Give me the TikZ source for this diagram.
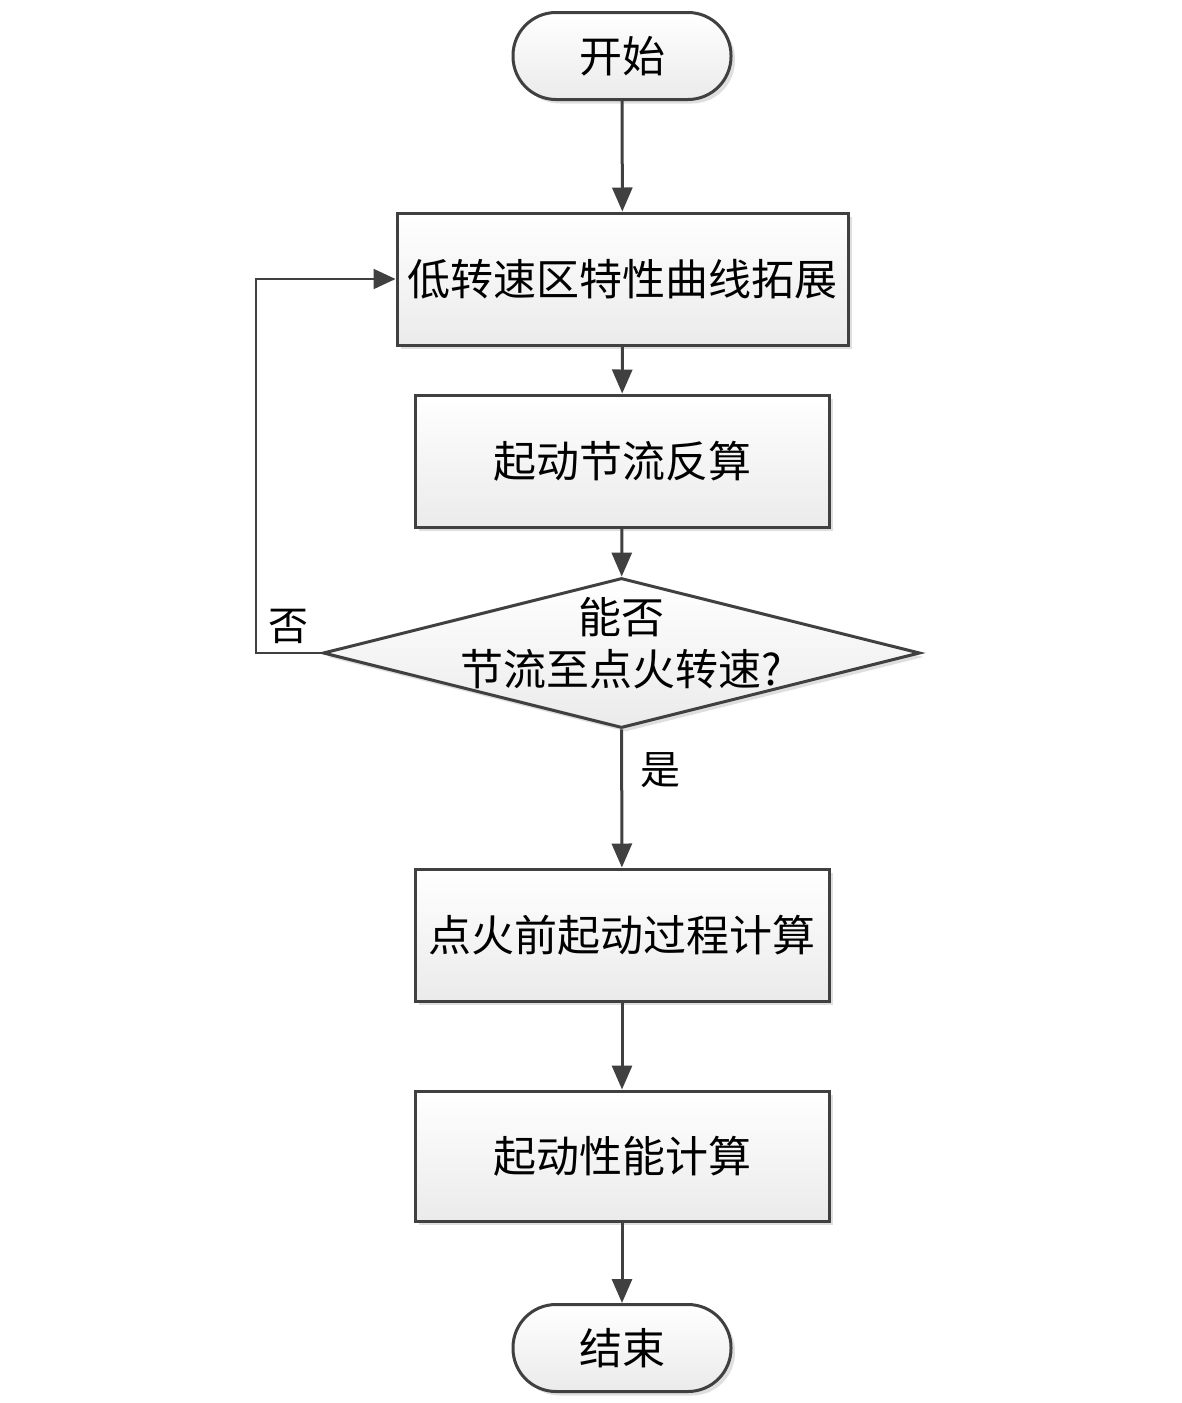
\documentclass[tikz,border=0pt]{standalone}
\usepackage{fontspec}
\setmainfont{Noto Sans CJK SC}
\usetikzlibrary{shapes.geometric,shadows,arrows.meta}
\begin{document}
\begin{tikzpicture}[x=1pt,y=-1pt,
  every node/.style={font=\fontsize{43}{52}\selectfont},
  boxfill/.style={draw=black!75, line width=3pt, top color=white, bottom color=black!8,
    drop shadow={opacity=0.25, shadow xshift=4pt, shadow yshift=-4pt}},
  procbox/.style={boxfill, rectangle, inner sep=0pt, minimum height=132pt},
  termbox/.style={boxfill, rectangle, rounded corners=43pt, inner sep=0pt, minimum width=218pt, minimum height=87pt},
  decbox/.style={boxfill, diamond, inner sep=0pt, minimum width=597pt, minimum height=150pt},
  conn/.style={draw=black!75, line width=3pt, -{Triangle[length=24pt,width=20pt]}},
  loopconn/.style={draw=black!75, line width=2pt, -{Triangle[length=22pt,width=20pt]}},
  lbl/.style={inner sep=0pt, font=\fontsize{40}{46}\selectfont}
]
\useasboundingbox (0,0) rectangle (1181,1403);
\fill[white] (0,0) rectangle (1181,1403);
\node[termbox] (start) at (622,56) {开始};
\node[procbox, minimum width=451pt] (b1) at (622.5,279) {低转速区特性曲线拓展};
\node[procbox, minimum width=414pt] (b2) at (622,461) {起动节流反算};
\node[decbox] (d) at (621.5,653) {};
\node[align=center, inner sep=0pt] (dt) at (621.5,643) {能否\\节流至点火转速?};
\node[procbox, minimum width=414pt] (b3) at (622,935) {点火前起动过程计算};
\node[procbox, minimum width=414pt, minimum height=130pt] (b4) at (622,1156) {起动性能计算};
\node[termbox] (end) at (622,1348) {结束};
\coordinate (lc) at (256,653);
\draw[conn] (start) -- (b1);
\draw[conn] (b1) -- (b2);
\draw[conn] (b2) -- (d);
\draw[conn] (d) -- (b3);
\draw[conn] (b3) -- (b4);
\draw[conn] (b4) -- (end);
\draw[loopconn] (d.west) -- (lc) |- (b1.west);
\node[lbl] (no) at (288,626) {否};
\node[lbl] (yes) at (660,770) {是};
\end{tikzpicture}
\end{document}
